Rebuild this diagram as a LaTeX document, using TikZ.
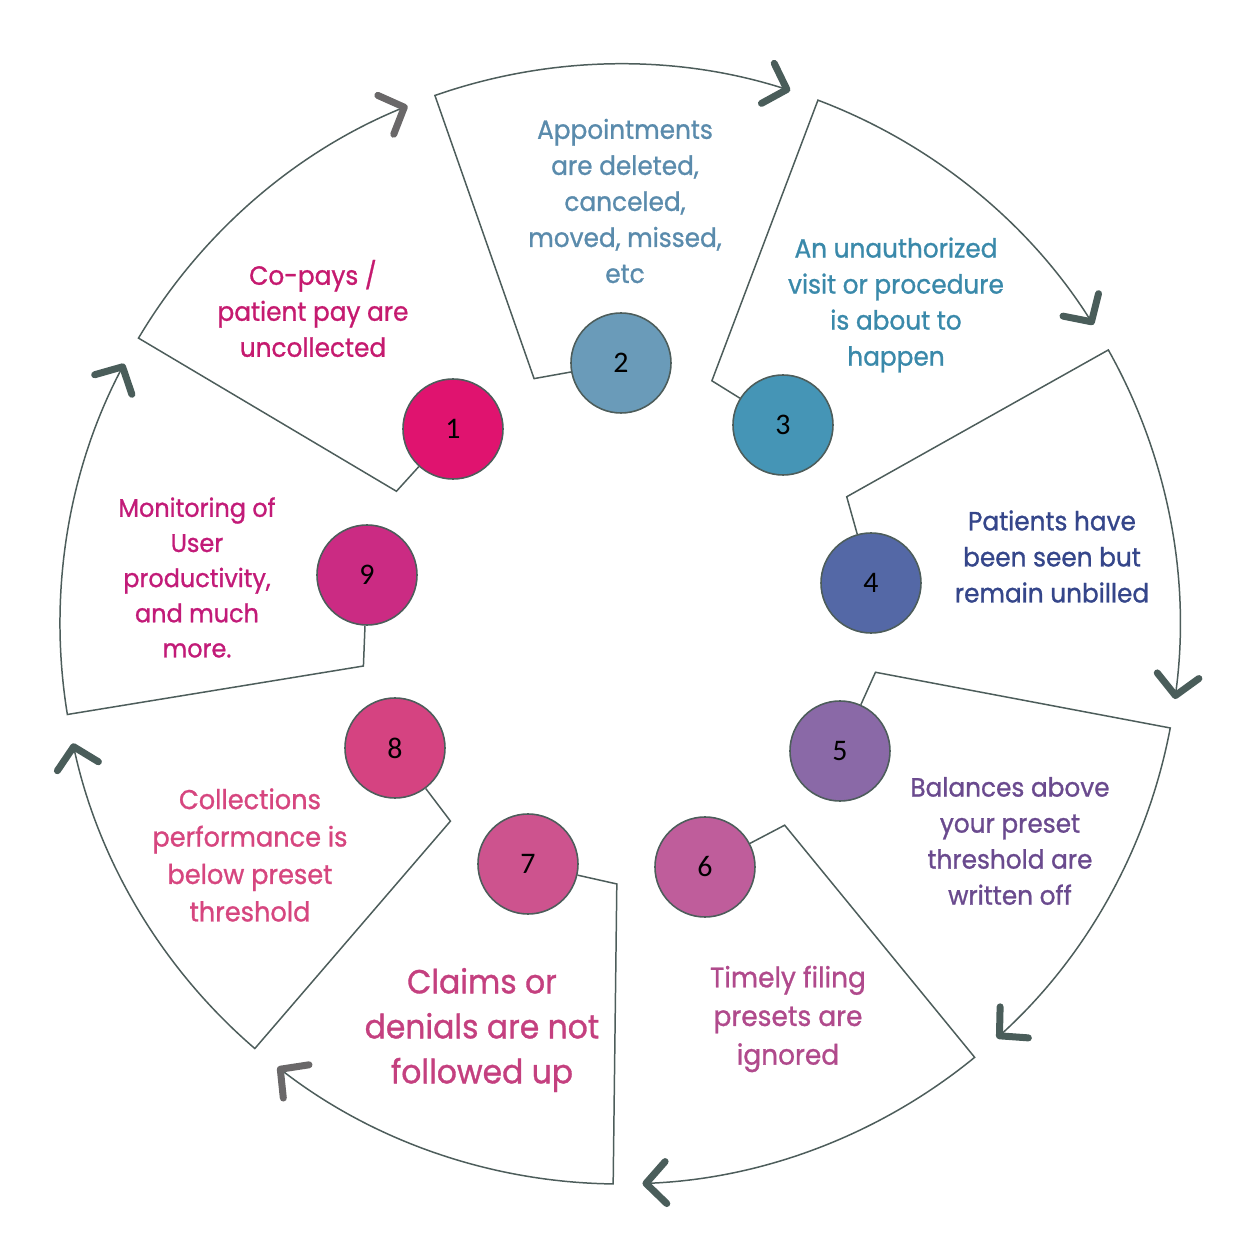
\documentclass[tikz,border=0pt]{standalone}
\usepackage{fontspec}
\setmainfont{Poppins}[FakeStretch=0.94, FakeBold=1.0]
\newfontfamily\numfont{Carlito}
\usetikzlibrary{arrows.meta}

\definecolor{ringline}{HTML}{4D5D5B}
\definecolor{tipdark}{HTML}{4A5D5A}
\definecolor{tipgrey}{HTML}{6A6869}
\definecolor{dotone}{HTML}{E0136F}
\definecolor{dottwo}{HTML}{6A9BB9}
\definecolor{dotthree}{HTML}{4595B6}
\definecolor{dotfour}{HTML}{5468A6}
\definecolor{dotfive}{HTML}{8A69A7}
\definecolor{dotsix}{HTML}{BF5D9B}
\definecolor{dotseven}{HTML}{CD538E}
\definecolor{doteight}{HTML}{D54381}
\definecolor{dotnine}{HTML}{CB2B83}
\definecolor{txtone}{HTML}{C51A6F}
\definecolor{txttwo}{HTML}{5A8BAC}
\definecolor{txtthree}{HTML}{3A89AA}
\definecolor{txtfour}{HTML}{35468A}
\definecolor{txtfive}{HTML}{6A4A8E}
\definecolor{txtsix}{HTML}{B04A8C}
\definecolor{txtseven}{HTML}{C4407F}
\definecolor{txteight}{HTML}{D6467F}
\definecolor{txtnine}{HTML}{C21B78}

\tikzset{
	ring/.style={draw=ringline, line width=0.85pt,
		-{Straight Barb[length=0.4cm, width=0.84cm, line width=0.14cm, round, color=#1]}},
	ring/.default=tipdark,
	dot/.style={circle, draw=ringline, line width=0.9pt, minimum size=2cm, inner sep=0pt,
		font=\numfont\fontsize{17}{17}\selectfont},
	lbl/.style={align=center, font=\fontsize{15}{20.5}\selectfont},
}

\begin{document}
\begin{tikzpicture}
	\useasboundingbox (-12.4,-12.52) rectangle (12.6,12.48);

	\node[dot, fill=dotone] (c1) at (-3.34,3.90) {1};
	\node[dot, fill=dottwo] (c2) at (0.02,5.22) {2};
	\node[dot, fill=dotthree] (c3) at (3.26,3.98) {3};
	\node[dot, fill=dotfour] (c4) at (5.02,0.82) {4};
	\node[dot, fill=dotfive] (c5) at (4.40,-2.54) {5};
	\node[dot, fill=dotsix] (c6) at (1.70,-4.86) {6};
	\node[dot, fill=dotseven] (c7) at (-1.84,-4.80) {7};
	\node[dot, fill=doteight] (c8) at (-4.50,-2.48) {8};
	\node[dot, fill=dotnine] (c9) at (-5.06,0.98) {9};

	\coordinate (k1) at (149.3:5.2); \coordinate (o1) at (149.3:11.2);
	\coordinate (k2) at (109.3:5.2); \coordinate (o2) at (109.3:11.2);
	\coordinate (k3) at (69.3:5.2);  \coordinate (o3) at (69.3:11.2);
	\coordinate (k4) at (29.3:5.2);  \coordinate (o4) at (29.3:11.2);
	\coordinate (k5) at (-10.7:5.2); \coordinate (o5) at (-10.7:11.2);
	\coordinate (k6) at (-50.7:5.2); \coordinate (o6) at (-50.7:11.2);
	\coordinate (k7) at (-90.7:5.2); \coordinate (o7) at (-90.7:11.2);
	\coordinate (k8) at (-130.7:5.2); \coordinate (o8) at (-130.7:11.2);
	\coordinate (k9) at (-170.7:5.2); \coordinate (o9) at (-170.7:11.2);

	\draw[ring=tipgrey] (c1) -- (k1) -- (o1) arc[start angle=149.3, end angle=112.3, radius=11.2cm];
	\draw[ring] (c2) -- (k2) -- (o2) arc[start angle=109.3, end angle=72.3, radius=11.2cm];
	\draw[ring] (c3) -- (k3) -- (o3) arc[start angle=69.3, end angle=32.3, radius=11.2cm];
	\draw[ring] (c4) -- (k4) -- (o4) arc[start angle=29.3, end angle=-7.7, radius=11.2cm];
	\draw[ring] (c5) -- (k5) -- (o5) arc[start angle=-10.7, end angle=-47.7, radius=11.2cm];
	\draw[ring] (c6) -- (k6) -- (o6) arc[start angle=-50.7, end angle=-87.7, radius=11.2cm];
	\draw[ring=tipgrey] (c7) -- (k7) -- (o7) arc[start angle=-90.7, end angle=-127.7, radius=11.2cm];
	\draw[ring] (c8) -- (k8) -- (o8) arc[start angle=-130.7, end angle=-167.7, radius=11.2cm];
	\draw[ring] (c9) -- (k9) -- (o9) arc[start angle=-170.7, end angle=-207.7, radius=11.2cm];

	\node[lbl, text=txtone] (t1) at (-6.14,6.31) {Co-pays /\\patient pay are\\uncollected};
	\node[lbl, text=txttwo] (t2) at (0.10,8.46) {Appointments\\are deleted,\\canceled,\\moved, missed,\\etc};
	\node[lbl, text=txtthree] (t3) at (5.52,6.38) {An unauthorized\\visit or procedure\\is about to\\happen};
	\node[lbl, text=txtfour] (t4) at (8.64,1.35) {Patients have\\been seen but\\remain unbilled};
	\node[lbl, text=txtfive] (t5) at (7.80,-4.34) {Balances above\\your preset\\threshold are\\written off};
	\node[lbl, text=txtsix, font=\fontsize{16}{22}\selectfont] (t6) at (3.36,-7.90) {Timely filing\\presets are\\ignored};
	\node[lbl, text=txtseven, font=\fontsize{19}{25.6}\selectfont] (t7) at (-2.76,-8.12) {Claims or\\denials are not\\followed up};
	\node[lbl, text=txteight, font=\fontsize{15.5}{21.3}\selectfont] (t8) at (-7.40,-4.62) {Collections\\performance is\\below preset\\threshold};
	\node[lbl, text=txtnine, font=\fontsize{14.5}{20}\selectfont] (t9) at (-8.46,0.93) {Monitoring of\\User\\productivity,\\and much\\more.};
\end{tikzpicture}
\end{document}
